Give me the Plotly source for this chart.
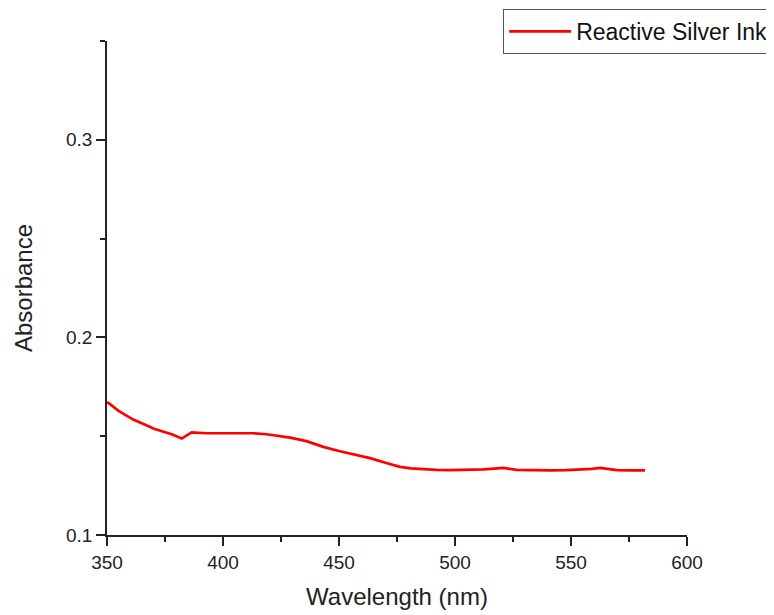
import plotly.graph_objects as go

wavelength = [350, 350.6, 355, 361.3, 366, 370, 374, 377.9, 382.2, 384.3, 386.5, 393, 400, 407.3,
              413, 418.8, 424, 428.9, 436, 443.2, 450.4, 457, 463.4, 470, 476.3, 481, 486.4, 492,
              497.8, 505, 512.2, 517, 520.8, 526.6, 534, 541, 548, 555.4, 559, 562.5, 566, 569.7,
              575, 581.9]
absorbance = [0.1672, 0.1668, 0.1628, 0.1584, 0.1560, 0.1539, 0.1524, 0.1510, 0.1488, 0.1505, 0.1519,
              0.1515, 0.1516, 0.1517, 0.1515, 0.1510, 0.1502, 0.1493, 0.1475, 0.1446, 0.1424, 0.1408,
              0.1389, 0.1366, 0.1345, 0.1337, 0.1332, 0.1330, 0.1328, 0.1329, 0.1332, 0.1336, 0.1340,
              0.1330, 0.1328, 0.1327, 0.1328, 0.1332, 0.1335, 0.1340, 0.1333, 0.1328, 0.1327, 0.1327]
series_name = "Reactive Silver Ink"
x_ticks = [350, 400, 450, 500, 550, 600]
y_ticks = [0.1, 0.2, 0.3]

fig = go.Figure()
fig.add_trace(go.Scatter(x=wavelength, y=absorbance, mode="lines", name=series_name,
                         line=dict(color="#ff0000", width=2.7)))

font = "Liberation Sans, Arial, sans-serif"
fig.update_layout(
    width=774, height=615,
    margin=dict(l=99, r=95, t=33, b=88, autoexpand=False),
    paper_bgcolor="white", plot_bgcolor="white",
    font=dict(family=font, color="#222222", size=19),
    showlegend=True,
    legend=dict(x=0.683, y=1.065, xanchor="left", yanchor="top",
                bordercolor="#555555", borderwidth=1, bgcolor="white",
                font=dict(size=23, family=font, color="#111111"),
                tracegroupgap=0, itemwidth=62),
    xaxis=dict(range=[350, 600], tickvals=x_ticks, ticks="outside", ticklen=9, tickwidth=1.5,
               tickcolor="#222222", showline=True, linecolor="#222222", linewidth=1.8,
               showgrid=False, zeroline=False, tickfont=dict(size=19), automargin=False,
               title=dict(text="Wavelength (nm)", font=dict(size=24), standoff=16),
               minor=dict(dtick=25, tick0=350, ticks="outside", ticklen=5, tickwidth=1.5,
                          tickcolor="#222222", showgrid=False)),
    yaxis=dict(range=[0.1, 0.35], tickvals=y_ticks, ticktext=["0.1", "0.2", "0.3"], ticks="outside",
               ticklen=9, tickwidth=1.5, tickcolor="#222222", showline=True, linecolor="#222222",
               linewidth=1.8, showgrid=False, zeroline=False, tickfont=dict(size=19), automargin=False,
               title=dict(text="Absorbance", font=dict(size=24), standoff=26),
               minor=dict(dtick=0.05, tick0=0.1, ticks="outside", ticklen=5, tickwidth=1.5,
                          tickcolor="#222222", showgrid=False)),
)

fig.write_html("out.html")
